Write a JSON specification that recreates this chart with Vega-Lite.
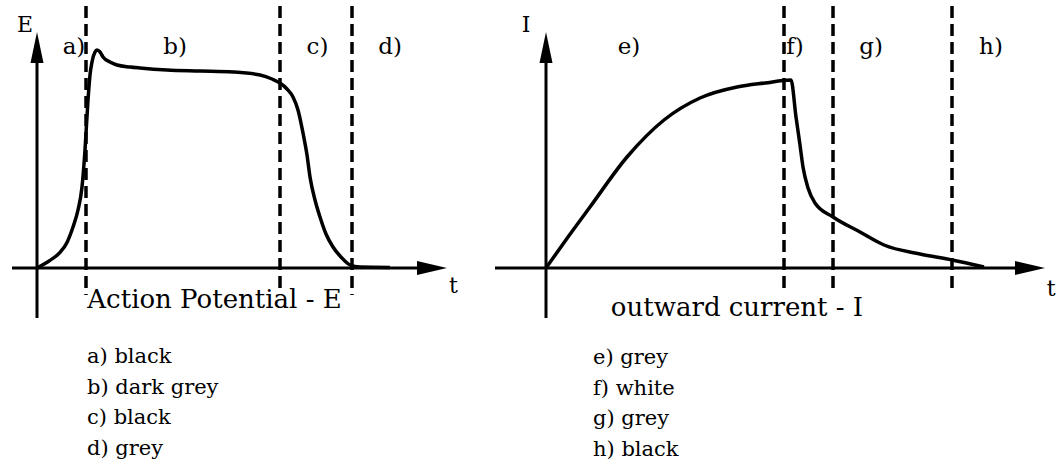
{
  "$schema": "https://vega.github.io/schema/vega-lite/v6.json",
  "background": "white",
  "padding": 0,
  "spacing": 0,
  "config": {"view": {"stroke": null}, "text": {"font": "DejaVu Serif", "color": "black", "baseline": "alphabetic"}},
  "datasets": {
    "one": [{}],
    "E_curve": [
      {"t": 0, "E": 0}, {"t": 1.3, "E": 3.8}, {"t": 2.3, "E": 7.8}, {"t": 3.0, "E": 12.8},
      {"t": 3.6, "E": 20.5}, {"t": 4.1, "E": 29}, {"t": 4.5, "E": 40.5}, {"t": 4.8, "E": 59},
      {"t": 5.1, "E": 84}, {"t": 5.3, "E": 96.5}, {"t": 5.5, "E": 103}, {"t": 5.8, "E": 108},
      {"t": 6.0, "E": 109}, {"t": 6.3, "E": 108}, {"t": 6.6, "E": 105.5}, {"t": 7.3, "E": 103},
      {"t": 8.0, "E": 101.5}, {"t": 9.3, "E": 100.5}, {"t": 10.3, "E": 100}, {"t": 13.0, "E": 99},
      {"t": 16.3, "E": 98.5}, {"t": 19.6, "E": 98}, {"t": 22.3, "E": 96.5}, {"t": 23.5, "E": 94.5},
      {"t": 24.3, "E": 92.5}, {"t": 25.0, "E": 89.5}, {"t": 25.6, "E": 85.5}, {"t": 26.1, "E": 79},
      {"t": 26.6, "E": 67.5}, {"t": 27.0, "E": 56.5}, {"t": 27.3, "E": 45.5}, {"t": 27.8, "E": 34},
      {"t": 28.3, "E": 25.5}, {"t": 28.9, "E": 17}, {"t": 29.6, "E": 10.5}, {"t": 30.4, "E": 5.5},
      {"t": 31.3, "E": 1.5}, {"t": 32.3, "E": 0.5}, {"t": 35.3, "E": 0.3}
    ],
    "I_curve": [
      {"t": 0, "I": 0}, {"t": 2.2, "I": 15.5}, {"t": 4.4, "I": 30.5}, {"t": 8.1, "I": 55.5},
      {"t": 11.8, "I": 74}, {"t": 15.4, "I": 85}, {"t": 19.1, "I": 90.5}, {"t": 21.9, "I": 92.5},
      {"t": 24.5, "I": 94}, {"t": 25.0, "I": 75.5}, {"t": 25.4, "I": 61.5}, {"t": 25.7, "I": 50.5},
      {"t": 26.2, "I": 40}, {"t": 26.9, "I": 32.5}, {"t": 28.7, "I": 25.5}, {"t": 31.4, "I": 18},
      {"t": 33.8, "I": 11.5}, {"t": 37.4, "I": 7}, {"t": 40.6, "I": 4}, {"t": 43.8, "I": 0.5}
    ],
    "E_bounds": [{"t": 4.9}, {"t": 24.3}, {"t": 31.5}],
    "I_bounds": [{"t": 23.8}, {"t": 28.7}, {"t": 40.6}],
    "E_phases": [
      {"label": "a)", "t": 3.7, "shade": "black", "order": 0},
      {"label": "b)", "t": 13.8, "shade": "dark grey", "order": 1},
      {"label": "c)", "t": 28.05, "shade": "black", "order": 2},
      {"label": "d)", "t": 35.3, "shade": "grey", "order": 3}
    ],
    "I_phases": [
      {"label": "e)", "t": 8.3, "shade": "grey", "order": 0},
      {"label": "f)", "t": 24.9, "shade": "white", "order": 1},
      {"label": "g)", "t": 32.5, "shade": "grey", "order": 2},
      {"label": "h)", "t": 44.5, "shade": "black", "order": 3}
    ]
  },
  "hconcat": [
    {
      "width": 480,
      "height": 467,
      "data": {"name": "one"},
      "layer": [
        {
          "mark": {"type": "rule", "color": "black", "strokeWidth": 3},
          "encoding": {
            "x": {"datum": -2.5, "type": "quantitative", "scale": {"domain": [-3.7, 44.3], "nice": false, "zero": false}, "axis": null},
            "x2": {"datum": 39},
            "y": {"datum": 0, "type": "quantitative", "scale": {"domain": [-99.5, 134], "nice": false, "zero": false}, "axis": null}
          }
        },
        {
          "mark": {"type": "rule", "color": "black", "strokeWidth": 3},
          "encoding": {
            "x": {"datum": 0, "type": "quantitative", "scale": {"domain": [-3.7, 44.3], "nice": false, "zero": false}, "axis": null},
            "y": {"datum": -25, "type": "quantitative", "scale": {"domain": [-99.5, 134], "nice": false, "zero": false}, "axis": null},
            "y2": {"datum": 110}
          }
        },
        {
          "mark": {"type": "point", "shape": "M0,0L-2,-0.47L-2,0.47Z", "filled": true, "size": 900, "color": "black", "opacity": 1, "strokeWidth": 0},
          "encoding": {
            "x": {"datum": 41, "type": "quantitative", "scale": {"domain": [-3.7, 44.3], "nice": false, "zero": false}, "axis": null},
            "y": {"datum": 0, "type": "quantitative", "scale": {"domain": [-99.5, 134], "nice": false, "zero": false}, "axis": null}
          }
        },
        {
          "mark": {"type": "point", "shape": "M0,0L-0.42,2L0.42,2Z", "filled": true, "size": 961, "color": "black", "opacity": 1, "strokeWidth": 0},
          "encoding": {
            "x": {"datum": 0, "type": "quantitative", "scale": {"domain": [-3.7, 44.3], "nice": false, "zero": false}, "axis": null},
            "y": {"datum": 118, "type": "quantitative", "scale": {"domain": [-99.5, 134], "nice": false, "zero": false}, "axis": null}
          }
        },
        {
          "data": {"name": "E_bounds"},
          "mark": {"type": "rule", "color": "black", "strokeWidth": 3.5, "strokeDash": [12, 6]},
          "encoding": {
            "x": {"field": "t", "type": "quantitative", "scale": {"domain": [-3.7, 44.3], "nice": false, "zero": false}, "axis": null},
            "y": {"datum": 131, "type": "quantitative", "scale": {"domain": [-99.5, 134], "nice": false, "zero": false}, "axis": null},
            "y2": {"datum": -13.5}
          }
        },
        {
          "data": {"name": "E_curve"},
          "mark": {"type": "line", "interpolate": "monotone", "color": "black", "strokeWidth": 3.5},
          "encoding": {
            "x": {"field": "t", "type": "quantitative", "scale": {"domain": [-3.7, 44.3], "nice": false, "zero": false}, "axis": null},
            "y": {"field": "E", "type": "quantitative", "scale": {"domain": [-99.5, 134], "nice": false, "zero": false}, "axis": null}
          }
        },
        {
          "data": {"name": "E_phases"},
          "mark": {"type": "text", "fontSize": 23, "align": "center"},
          "encoding": {
            "x": {"field": "t", "type": "quantitative", "scale": {"domain": [-3.7, 44.3], "nice": false, "zero": false}, "axis": null},
            "y": {"datum": 107, "type": "quantitative", "scale": {"domain": [-99.5, 134], "nice": false, "zero": false}, "axis": null},
            "text": {"field": "label"}
          }
        },
        {
          "data": {"name": "E_phases"},
          "transform": [{"calculate": "datum.label + ' ' + datum.shade", "as": "item"}],
          "mark": {"type": "text", "fontSize": 21, "align": "left"},
          "encoding": {
            "x": {"datum": 5.0, "type": "quantitative", "scale": {"domain": [-3.7, 44.3], "nice": false, "zero": false}, "axis": null},
            "y": {"datum": -47.5, "type": "quantitative", "scale": {"domain": [-99.5, 134], "nice": false, "zero": false}, "axis": null},
            "yOffset": {"field": "order", "type": "quantitative", "scale": {"domain": [0, 3], "range": [0, 91.5], "zero": false, "nice": false}},
            "text": {"field": "item"}
          }
        },
        {
          "mark": {"type": "text", "fontSize": 22, "align": "center"},
          "encoding": {
            "x": {"datum": -1.2, "type": "quantitative", "scale": {"domain": [-3.7, 44.3], "nice": false, "zero": false}, "axis": null},
            "y": {"datum": 118, "type": "quantitative", "scale": {"domain": [-99.5, 134], "nice": false, "zero": false}, "axis": null},
            "text": {"value": "E"}
          }
        },
        {
          "mark": {"type": "text", "fontSize": 22, "align": "center"},
          "encoding": {
            "x": {"datum": 41.65, "type": "quantitative", "scale": {"domain": [-3.7, 44.3], "nice": false, "zero": false}, "axis": null},
            "y": {"datum": -12.5, "type": "quantitative", "scale": {"domain": [-99.5, 134], "nice": false, "zero": false}, "axis": null},
            "text": {"value": "t"}
          }
        },
        {
          "mark": {"type": "text", "fontSize": 26, "align": "center"},
          "encoding": {
            "x": {"datum": 17.75, "type": "quantitative", "scale": {"domain": [-3.7, 44.3], "nice": false, "zero": false}, "axis": null},
            "y": {"datum": -20, "type": "quantitative", "scale": {"domain": [-99.5, 134], "nice": false, "zero": false}, "axis": null},
            "text": {"value": "Action Potential - E"}
          }
        }
      ]
    },
    {
      "width": 576,
      "height": 467,
      "data": {"name": "one"},
      "layer": [
        {
          "mark": {"type": "rule", "color": "black", "strokeWidth": 3},
          "encoding": {
            "x": {"datum": -5.1, "type": "quantitative", "scale": {"domain": [-6.6, 51.0], "nice": false, "zero": false}, "axis": null},
            "x2": {"datum": 47.5},
            "y": {"datum": 0, "type": "quantitative", "scale": {"domain": [-99.5, 134], "nice": false, "zero": false}, "axis": null}
          }
        },
        {
          "mark": {"type": "rule", "color": "black", "strokeWidth": 3},
          "encoding": {
            "x": {"datum": 0, "type": "quantitative", "scale": {"domain": [-6.6, 51.0], "nice": false, "zero": false}, "axis": null},
            "y": {"datum": -25, "type": "quantitative", "scale": {"domain": [-99.5, 134], "nice": false, "zero": false}, "axis": null},
            "y2": {"datum": 110}
          }
        },
        {
          "mark": {"type": "point", "shape": "M0,0L-2,-0.47L-2,0.47Z", "filled": true, "size": 900, "color": "black", "opacity": 1, "strokeWidth": 0},
          "encoding": {
            "x": {"datum": 49.9, "type": "quantitative", "scale": {"domain": [-6.6, 51.0], "nice": false, "zero": false}, "axis": null},
            "y": {"datum": 0, "type": "quantitative", "scale": {"domain": [-99.5, 134], "nice": false, "zero": false}, "axis": null}
          }
        },
        {
          "mark": {"type": "point", "shape": "M0,0L-0.42,2L0.42,2Z", "filled": true, "size": 961, "color": "black", "opacity": 1, "strokeWidth": 0},
          "encoding": {
            "x": {"datum": 0, "type": "quantitative", "scale": {"domain": [-6.6, 51.0], "nice": false, "zero": false}, "axis": null},
            "y": {"datum": 118, "type": "quantitative", "scale": {"domain": [-99.5, 134], "nice": false, "zero": false}, "axis": null}
          }
        },
        {
          "data": {"name": "I_bounds"},
          "mark": {"type": "rule", "color": "black", "strokeWidth": 3.5, "strokeDash": [12, 6]},
          "encoding": {
            "x": {"field": "t", "type": "quantitative", "scale": {"domain": [-6.6, 51.0], "nice": false, "zero": false}, "axis": null},
            "y": {"datum": 131, "type": "quantitative", "scale": {"domain": [-99.5, 134], "nice": false, "zero": false}, "axis": null},
            "y2": {"datum": -12.5}
          }
        },
        {
          "data": {"name": "I_curve"},
          "mark": {"type": "line", "interpolate": "monotone", "color": "black", "strokeWidth": 3.5},
          "encoding": {
            "x": {"field": "t", "type": "quantitative", "scale": {"domain": [-6.6, 51.0], "nice": false, "zero": false}, "axis": null},
            "y": {"field": "I", "type": "quantitative", "scale": {"domain": [-99.5, 134], "nice": false, "zero": false}, "axis": null}
          }
        },
        {
          "data": {"name": "I_phases"},
          "mark": {"type": "text", "fontSize": 23, "align": "center"},
          "encoding": {
            "x": {"field": "t", "type": "quantitative", "scale": {"domain": [-6.6, 51.0], "nice": false, "zero": false}, "axis": null},
            "y": {"datum": 107, "type": "quantitative", "scale": {"domain": [-99.5, 134], "nice": false, "zero": false}, "axis": null},
            "text": {"field": "label"}
          }
        },
        {
          "data": {"name": "I_phases"},
          "transform": [{"calculate": "datum.label + ' ' + datum.shade", "as": "item"}],
          "mark": {"type": "text", "fontSize": 21, "align": "left"},
          "encoding": {
            "x": {"datum": 4.7, "type": "quantitative", "scale": {"domain": [-6.6, 51.0], "nice": false, "zero": false}, "axis": null},
            "y": {"datum": -48, "type": "quantitative", "scale": {"domain": [-99.5, 134], "nice": false, "zero": false}, "axis": null},
            "yOffset": {"field": "order", "type": "quantitative", "scale": {"domain": [0, 3], "range": [0, 91.5], "zero": false, "nice": false}},
            "text": {"field": "item"}
          }
        },
        {
          "mark": {"type": "text", "fontSize": 22, "align": "center"},
          "encoding": {
            "x": {"datum": -2.0, "type": "quantitative", "scale": {"domain": [-6.6, 51.0], "nice": false, "zero": false}, "axis": null},
            "y": {"datum": 118, "type": "quantitative", "scale": {"domain": [-99.5, 134], "nice": false, "zero": false}, "axis": null},
            "text": {"value": "I"}
          }
        },
        {
          "mark": {"type": "text", "fontSize": 22, "align": "right"},
          "encoding": {
            "x": {"datum": 50.95, "type": "quantitative", "scale": {"domain": [-6.6, 51.0], "nice": false, "zero": false}, "axis": null},
            "y": {"datum": -14, "type": "quantitative", "scale": {"domain": [-99.5, 134], "nice": false, "zero": false}, "axis": null},
            "text": {"value": "t"}
          }
        },
        {
          "mark": {"type": "text", "fontSize": 26, "align": "center"},
          "encoding": {
            "x": {"datum": 19.1, "type": "quantitative", "scale": {"domain": [-6.6, 51.0], "nice": false, "zero": false}, "axis": null},
            "y": {"datum": -24, "type": "quantitative", "scale": {"domain": [-99.5, 134], "nice": false, "zero": false}, "axis": null},
            "text": {"value": "outward current - I"}
          }
        }
      ]
    }
  ]
}
